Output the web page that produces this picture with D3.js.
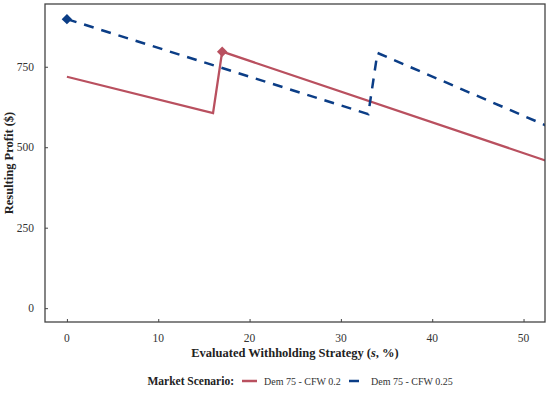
<!DOCTYPE html>
<html>
<head>
<meta charset="utf-8">
<script src="https://cdn.jsdelivr.net/npm/d3@7"></script>
<style>
  body { margin: 0; background: #fff; }
  svg text { font-family: "Liberation Serif", "DejaVu Serif", serif; }
</style>
</head>
<body>
<svg id="chart" width="550" height="398"></svg>
<script>
// withholding strategy s (%) and profit ($), read at the break points
var redS = [0, 16, 17, 53]
var redProfit = [719, 606, 797, 453]
var blueS = [0, 33, 34, 53]
var blueProfit = [898, 603, 793, 561]
// optimum markers
var redBest = { s: 17, v: 797 }
var blueBest = { s: 0, v: 898 }
var xTicks = [0, 10, 20, 30, 40, 50]
var yTicks = [0, 250, 500, 750]
var seriesNames = ['Dem 75 - CFW 0.2', 'Dem 75 - CFW 0.25']

var svg = d3.select('#chart')
var red = '#b9505f', blue = '#0b3d86'

var m = { l: 45, r: 545, t: 4, b: 322 }

var x = d3.scaleLinear().domain([-2.4, 52.35]).range([m.l, m.r])
var y = d3.scaleLinear().domain([-43, 945]).range([m.b, m.t])

svg.append('defs').append('clipPath').attr('id', 'plot')
  .append('rect')
  .attr('x', m.l).attr('y', m.t)
  .attr('width', m.r - m.l).attr('height', m.b - m.t)

// ticks, inside the frame
var xAxis = svg.append('g')
  .attr('transform', 'translate(0,' + m.b + ')')
  .call(d3.axisTop(x).tickValues(xTicks).tickSize(3).tickFormat(''))
xAxis.select('.domain').remove()
xAxis.selectAll('line').attr('stroke', '#444')

var yAxis = svg.append('g')
  .attr('transform', 'translate(' + m.l + ',0)')
  .call(d3.axisRight(y).tickValues(yTicks).tickSize(3).tickFormat(''))
yAxis.select('.domain').remove()
yAxis.selectAll('line').attr('stroke', '#444')

svg.selectAll('.xl').data(xTicks).enter().append('text')
  .attr('class', 'xl')
  .attr('x', function (d) { return x(d) })
  .attr('y', 342)
  .attr('text-anchor', 'middle')
  .attr('font-size', 11.5)
  .attr('fill', '#333')
  .text(function (d) { return d })

svg.selectAll('.yl').data(yTicks).enter().append('text')
  .attr('class', 'yl')
  .attr('x', 34)
  .attr('y', function (d) { return y(d) + 4 })
  .attr('text-anchor', 'end')
  .attr('font-size', 11.5)
  .attr('fill', '#333')
  .text(function (d) { return d })

var line = d3.line()
  .x(function (d) { return x(d[0]) })
  .y(function (d) { return y(d[1]) })

var plot = svg.append('g').attr('clip-path', 'url(#plot)')

plot.append('path')
  .datum(d3.zip(redS, redProfit))
  .attr('d', line)
  .attr('fill', 'none')
  .attr('stroke', red)
  .attr('stroke-width', 2.3)

plot.append('path')
  .datum(d3.zip(blueS, blueProfit))
  .attr('d', line)
  .attr('fill', 'none')
  .attr('stroke', blue)
  .attr('stroke-width', 2.5)
  .attr('stroke-dasharray', '10,8')

var diamond = d3.symbol().type(d3.symbolDiamond2).size(70)
svg.append('path')
  .attr('d', diamond())
  .attr('transform', 'translate(' + x(redBest.s) + ',' + y(redBest.v) + ')')
  .attr('fill', red)
svg.append('path')
  .attr('d', diamond())
  .attr('transform', 'translate(' + x(blueBest.s) + ',' + y(blueBest.v) + ')')
  .attr('fill', blue)

// frame
svg.append('rect')
  .attr('x', m.l).attr('y', m.t)
  .attr('width', m.r - m.l).attr('height', m.b - m.t)
  .attr('fill', 'none')
  .attr('stroke', '#444')
  .attr('stroke-width', 1.3)

// axis titles
var xt = svg.append('text')
  .attr('x', (m.l + m.r) / 2)
  .attr('y', 357)
  .attr('text-anchor', 'middle')
  .attr('font-size', 12.5)
  .attr('font-weight', 'bold')
  .attr('fill', '#222')
xt.append('tspan').text('Evaluated Withholding Strategy (')
xt.append('tspan').attr('font-style', 'italic').text('s')
xt.append('tspan').text(', %)')

svg.append('text')
  .attr('transform', 'translate(13,' + (m.t + m.b) / 2 + ') rotate(-90)')
  .attr('text-anchor', 'middle')
  .attr('font-size', 12.5)
  .attr('font-weight', 'bold')
  .attr('fill', '#222')
  .text('Resulting Profit ($)')

// legend
var lg = svg.append('g').attr('transform', 'translate(0,385)')
lg.append('text')
  .attr('x', 234).attr('y', 0)
  .attr('text-anchor', 'end')
  .attr('font-size', 11.5)
  .attr('font-weight', 'bold')
  .attr('fill', '#222')
  .text('Market Scenario:')

var items = [
  { name: seriesNames[0], color: red, dash: null, x0: 242 },
  { name: seriesNames[1], color: blue, dash: '10,8', x0: 349 }
]
items.forEach(function (d) {
  lg.append('line')
    .attr('x1', d.x0).attr('x2', d.x0 + 15)
    .attr('y1', -4).attr('y2', -4)
    .attr('stroke', d.color)
    .attr('stroke-width', 2.5)
    .attr('stroke-dasharray', d.dash)
  lg.append('text')
    .attr('x', d.x0 + 22).attr('y', 0)
    .attr('font-size', 10)
    .attr('fill', '#333')
    .text(d.name)
})
</script>
</body>
</html>
